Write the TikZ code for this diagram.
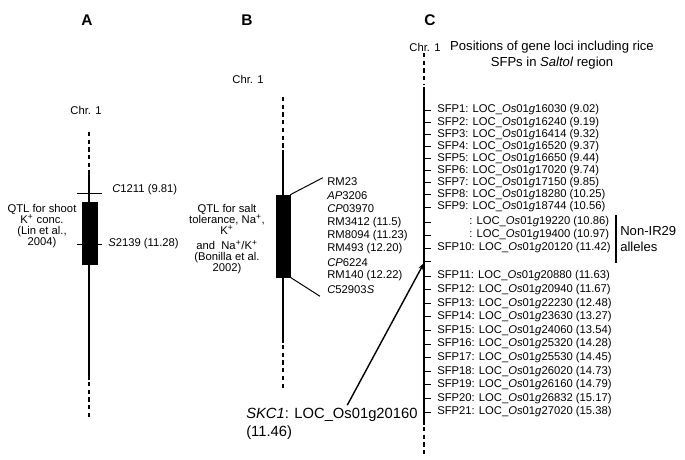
\documentclass[tikz,border=0pt]{standalone}
\usepackage{fontspec}
\setmainfont{Liberation Sans}
\usetikzlibrary{arrows.meta,positioning,calc}
\newcommand{\locus}[1]{LOC\_\textit{Os}01\textit{g}#1}
\newcommand{\ionp}{\textsuperscript{+}}

\begin{document}
\begin{tikzpicture}[
  x=0.025cm, y=-0.025cm,
  chrom/.style={line width=1.4pt},
  chromend/.style={line width=1.4pt, dash pattern=on 3pt off 2.5pt},
  qtlbox/.style={fill=black, draw=black, inner sep=0pt},
  tick/.style={line width=0.7pt},
  mk/.style={font=\fontsize{8}{9}\selectfont, anchor=west, inner sep=0pt},
  note/.style={font=\fontsize{8}{7.8}\selectfont, align=center, inner sep=0pt},
  panel/.style={font=\fontsize{11}{13}\selectfont\bfseries},
  arr/.style={line width=1pt, -{Stealth[length=5pt, width=3.5pt]}}
]
  \useasboundingbox (0,0) rectangle (685,460);

  % Panel labels
  \node[panel] (pa) at (87,20) {A};
  \node[panel] (pb) at (247,20) {B};
  \node[panel] (pc) at (430,20) {C};

  % ---- A: shoot K+ QTL
  \node[note] (chrA) at (86,110) {Chr. 1};
  \draw[chromend] (89,132) -- (89,168);
  \draw[chrom] (89,170) -- (89,380);
  \draw[chromend] (89,382) -- (89,418);
  \node[qtlbox, minimum width=0.375cm, minimum height=1.55cm] (boxA) at (89.5,233) {};
  \draw[tick] (77,193) -- (102,193);
  \draw[tick] (77,244) -- (102,244);
  \node[mk] (c1211) at (112,190) {\textit{C}1211 (9.81)};
  \node[mk] (s2139) at (108,244) {\textit{S}2139 (11.28)};
  \node[note] (qtlA) at (42,226) {QTL for shoot\\K\ionp{} conc.\\(Lin et al.,\\2004)};

  % ---- B: salt tolerance QTL
  \node[note] (chrB) at (248,79) {Chr. 1};
  \draw[chromend] (283,97) -- (283,148);
  \draw[chrom] (283,150) -- (283,343);
  \draw[chromend] (283,345) -- (283,390);
  \node[qtlbox, minimum width=0.35cm, minimum height=2.05cm] (boxB) at (283,236) {};
  \foreach \m [count=\i from 0] in {RM23, \textit{AP}3206, \textit{CP}03970, RM3412 (11.5),
      RM8094 (11.23), RM493 (12.20), \textit{CP}6224, RM140 (12.22), \textit{C}52903\textit{S}}
    \node[mk] (mk\i) at (327,{182+13.4*\i}) {\m};
  \draw[tick] (boxB.north east) -- ([xshift=-3pt]mk0.north west);
  \draw[tick] (boxB.south east) -- ([xshift=-5pt,yshift=-2pt]mk8.south west);
  \node[note] (qtlB) at (227,239) {QTL for salt\\tolerance, Na\ionp,\\K\ionp\\[3pt]and~~Na\ionp/K\ionp\\(Bonilla et al.\\2002)};

  % ---- C: Saltol region
  \node[note] (chrC) at (425,47) {Chr. 1};
  \node[font=\fontsize{9.3}{11.3}\selectfont, align=center] (title) at (552,55)
    {Positions of gene loci including rice\\SFPs in \textit{Saltol} region};
  \draw[chromend] (424,53) -- (424,85);
  \draw[chrom] (424,87) -- (424,425);
  \draw[chromend] (424,427) -- (424,457);
  \foreach \y/\s/\g/\p in {110/1/16030/9.02, 122.1/2/16240/9.19, 134.2/3/16414/9.32,
      146.4/4/16520/9.37, 158.5/5/16650/9.44, 170.6/6/17020/9.74, 182.7/7/17150/9.85,
      194.9/8/18280/10.25, 207/9/18744/10.56, 248/10/20120/11.42, 276/11/20880/11.63,
      289.6/12/20940/11.67, 303.2/13/22230/12.48, 316.8/14/23630/13.27, 330.4/15/24060/13.54,
      344/16/25320/14.28, 357.6/17/25530/14.45, 371.2/18/26020/14.73, 384.8/19/26160/14.79,
      398.4/20/26832/15.17, 412/21/27020/15.38} {
    \draw[tick] (424,\y) -- (431,\y);
    \node[mk] (sfp\s) at (437,\y) {SFP\s: \locus{\g} (\p)};
  }
  \foreach \y/\g/\p [count=\k] in {222/19220/10.86, 235/19400/10.97} {
    \draw[tick] (424,\y) -- (431,\y);
    \node[mk] (nsfp\k) at (469,\y) {: \locus{\g} (\p)};
  }
  \draw[tick] (424,261) -- (431,261);
  \coordinate (skcpt) at (424,263);

  % non-IR29 bracket
  \draw[line width=1pt] (616,215) -- (616,263);
  \node[font=\fontsize{9.3}{11.5}\selectfont, align=left, anchor=west, inner sep=0pt] (nonir) at (620,239) {Non-IR29\\alleles};

  % SKC1
  \node[font=\fontsize{10.5}{12.8}\selectfont, align=left, anchor=north west, inner sep=0pt] (skc) at (246,408)
    {\textit{SKC1}: LOC\_Os01g20160\\(11.46)};
  \draw[arr] ([xshift=72pt,yshift=2pt]skc.north west) -- (skcpt);
\end{tikzpicture}
\end{document}
